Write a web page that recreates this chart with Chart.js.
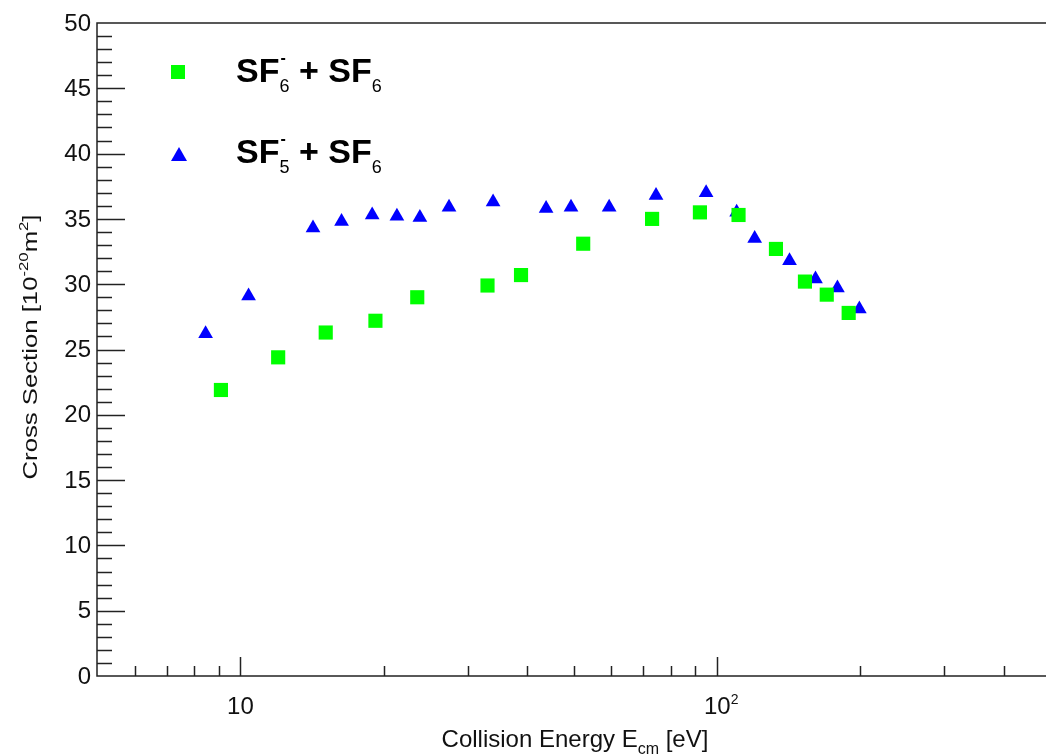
<!DOCTYPE html>
<html>
<head>
<meta charset="utf-8">
<script src="https://cdn.jsdelivr.net/npm/chart.js@4.4.1/dist/chart.umd.min.js"></script>
<style>
  html, body { margin: 0; padding: 0; background: #fff; overflow: hidden; }
  #wrap { width: 1046px; height: 756px; overflow: hidden; }
</style>
</head>
<body>
<div id="wrap"><canvas id="xsec" width="1060" height="756"></canvas></div>
<script>
// SF6- + SF6 (squares)
const sf6Energy = [9.1, 12.0, 15.1, 19.2, 23.5, 33.0, 38.8, 52.4, 73.1, 92.1, 111, 133, 153, 170, 189];
const sf6Sigma  = [21.9, 24.4, 26.3, 27.2, 29.0, 29.9, 30.7, 33.1, 35.0, 35.5, 35.3, 32.7, 30.2, 29.2, 27.8];

// SF5- + SF6 (triangles)
const sf5Energy = [8.45, 10.4, 14.2, 16.3, 18.9, 21.3, 23.8, 27.4, 33.9, 43.8, 49.4, 59.4, 74.5, 94.9, 110, 120, 142, 161, 179, 199];
const sf5Sigma  = [26.2, 29.1, 34.3, 34.8, 35.3, 35.2, 35.1, 35.9, 36.3, 35.8, 35.9, 35.9, 36.8, 37.0, 35.5, 33.5, 31.8, 30.4, 29.7, 28.1];

// axis ticks
const yLabelTicks = [0, 5, 10, 15, 20, 25, 30, 35, 40, 45, 50];
const xMajorTicks = [10, 100];
const xMinorTicks = [6, 7, 8, 9, 20, 30, 40, 50, 60, 70, 80, 90, 200, 300, 400];

const FONT = '"Liberation Sans", Arial, sans-serif';
const GREEN = '#00ff00';
const BLUE = '#0000ff';

const toPoints = (xs, ys) => xs.map((x, i) => ({ x: x, y: ys[i] }));

// draw a run of text pieces (sub/superscripts) starting at x
function richText(ctx, parts, x, y, align) {
  let total = 0;
  parts.forEach(p => {
    ctx.font = (p.bold ? 'bold ' : '') + p.size + 'px ' + FONT;
    p.w = ctx.measureText(p.t).width;
    total += p.w;
  });
  let cx = align === 'center' ? x - total / 2 : x;
  parts.forEach(p => {
    ctx.font = (p.bold ? 'bold ' : '') + p.size + 'px ' + FONT;
    ctx.fillText(p.t, cx, y + (p.dy || 0));
    cx += p.w;
  });
  return total;
}

const rootFrame = {
  id: 'rootFrame',
  beforeDatasetsDraw(chart) {
    const ctx = chart.ctx;
    const a = chart.chartArea;
    const xs = chart.scales.x, ys = chart.scales.y;
    ctx.save();
    ctx.strokeStyle = '#222';
    ctx.lineWidth = 1.5;
    ctx.strokeRect(a.left, a.top, a.right - a.left, a.bottom - a.top);

    // y ticks inside the frame: every unit, longer every 5
    ctx.lineWidth = 1.5;
    for (let v = 1; v < 50; v++) {
      const py = Math.round(ys.getPixelForValue(v)) + 0.5;
      const len = v % 5 === 0 ? 28 : 15;
      ctx.beginPath();
      ctx.moveTo(a.left, py);
      ctx.lineTo(a.left + len, py);
      ctx.stroke();
    }
    // x ticks on the bottom axis
    const drawX = (v, len) => {
      const px = Math.round(xs.getPixelForValue(v)) + 0.5;
      ctx.beginPath();
      ctx.moveTo(px, a.bottom);
      ctx.lineTo(px, a.bottom - len);
      ctx.stroke();
    };
    xMinorTicks.forEach(v => drawX(v, 10));
    xMajorTicks.forEach(v => drawX(v, 19));
    ctx.restore();
  },
  afterDraw(chart) {
    const ctx = chart.ctx;
    const a = chart.chartArea;
    const xs = chart.scales.x, ys = chart.scales.y;
    ctx.save();
    ctx.fillStyle = '#111';

    // y tick labels
    ctx.font = '24px ' + FONT;
    ctx.textAlign = 'right';
    ctx.textBaseline = 'middle';
    yLabelTicks.forEach(v => {
      ctx.fillText(String(v), a.left - 6, ys.getPixelForValue(v) + 1);
    });

    // x tick labels: 10 and 10^2
    ctx.textAlign = 'left';
    ctx.textBaseline = 'alphabetic';
    ctx.font = '24px ' + FONT;
    const p10 = xs.getPixelForValue(xMajorTicks[0]);
    ctx.textAlign = 'center';
    ctx.fillText('10', p10, 714);
    ctx.textAlign = 'left';
    const p100 = xs.getPixelForValue(xMajorTicks[1]);
    richText(ctx, [{ t: '10', size: 24 }, { t: '2', size: 14, dy: -10 }], p100 - 13, 714);

    // x axis title
    richText(ctx, [
      { t: 'Collision Energy E', size: 24 },
      { t: 'cm', size: 16, dy: 7 },
      { t: ' [eV]', size: 24 }
    ], 575, 747, 'center');

    // y axis title, rotated
    ctx.save();
    ctx.translate(37, 347);
    ctx.rotate(-Math.PI / 2);
    const yParts = [
      { t: 'Cross Section [10', size: 20 },
      { t: '-20', size: 13, dy: -9 },
      { t: 'm', size: 20 },
      { t: '2', size: 13, dy: -9 },
      { t: ']', size: 20 }
    ];
    let w = 0;
    yParts.forEach(p => { ctx.font = p.size + 'px ' + FONT; w += ctx.measureText(p.t).width; });
    ctx.scale(265 / w, 1);
    richText(ctx, yParts, 0, 0, 'center');
    ctx.restore();

    // legend
    ctx.fillStyle = GREEN;
    ctx.fillRect(178 - 7, 72 - 7, 14, 14);
    ctx.fillStyle = BLUE;
    ctx.beginPath();
    ctx.moveTo(179, 147);
    ctx.lineTo(187, 161);
    ctx.lineTo(171, 161);
    ctx.closePath();
    ctx.fill();

    ctx.fillStyle = '#000';
    const legendRow = (ion, y) => {
      let x = 236;
      x += richText(ctx, [{ t: 'SF', size: 34, bold: true }], x, y);
      ctx.font = 'bold 16px ' + FONT;
      ctx.fillText('-', x + 1, y - 19);
      x += richText(ctx, [{ t: ion, size: 18, dy: 10 }], x, y);
      x += richText(ctx, [{ t: ' + SF', size: 34, bold: true }], x, y);
      richText(ctx, [{ t: '6', size: 18, dy: 10 }], x, y);
    };
    legendRow('6', 82);
    legendRow('5', 163);
    ctx.restore();
  }
};

new Chart(document.getElementById('xsec').getContext('2d'), {
  type: 'scatter',
  data: {
    datasets: [{
      label: 'SF6- + SF6',
      data: toPoints(sf6Energy, sf6Sigma),
      pointStyle: 'rect',
      pointRadius: 10,
      pointBorderWidth: 0,
      pointBackgroundColor: GREEN,
      borderColor: GREEN
    }, {
      label: 'SF5- + SF6',
      data: toPoints(sf5Energy, sf5Sigma),
      pointStyle: 'triangle',
      pointRadius: 8.5,
      pointBorderWidth: 0,
      pointBackgroundColor: BLUE,
      borderColor: BLUE
    }]
  },
  options: {
    responsive: false,
    animation: false,
    layout: { padding: { left: 97, top: 23, right: 7, bottom: 80 } },
    plugins: { legend: { display: false }, tooltip: { enabled: false } },
    scales: {
      x: { type: 'logarithmic', min: 5, max: 500, display: false },
      y: { type: 'linear', min: 0, max: 50, display: false }
    }
  },
  plugins: [rootFrame]
});
</script>
</body>
</html>
